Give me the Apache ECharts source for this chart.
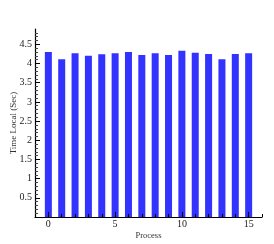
<!DOCTYPE html>
<html><head><meta charset="utf-8">
<script src="https://cdn.jsdelivr.net/npm/echarts@6/dist/echarts.min.js"></script>
<style>html,body{margin:0;padding:0;background:#fff}#c{width:274px;height:244px}</style>
</head><body><div id="c"></div>
<script>
var processes = [0,1,2,3,4,5,6,7,8,9,10,11,12,13,14,15];
var timeLocal = [4.30,4.11,4.27,4.20,4.24,4.27,4.30,4.22,4.27,4.22,4.33,4.28,4.25,4.11,4.25,4.27];
var xTickLabels = [0,5,10,15];
var yTickLabels = [0.5,1,1.5,2,2.5,3,3.5,4,4.5];
var xMinorTicks = [-1,0,1,2,3,4,5,6,7,8,9,10,11,12,13,14,15,16];
var yMinorTicks = [0.1,0.2,0.3,0.4,0.6,0.7,0.8,0.9,1.1,1.2,1.3,1.4,1.6,1.7,1.8,1.9,2.1,2.2,2.3,2.4,2.6,2.7,2.8,2.9,3.1,3.2,3.3,3.4,3.6,3.7,3.8,3.9,4.1,4.2,4.3,4.4,4.6,4.7,4.8];

var chart = echarts.init(document.getElementById('c'), null, {renderer:'canvas'});
chart.setOption({
  animation:false,
  grid:{left:35, top:29, right:12, bottom:27, containLabel:false, outerBoundsMode:'none'},
  xAxis:[{
    type:'value', min:-1, max:16, position:'bottom', z:5,
    name:'Process', nameLocation:'middle', nameGap:14, nameMoveOverlap:false,
    nameTextStyle:{fontFamily:'Liberation Serif', fontSize:8.5, color:'#333'},
    axisLine:{show:true, onZero:false, lineStyle:{color:'#000', width:1.2}},
    axisTick:{show:true, inside:true, length:5, customValues:xTickLabels, lineStyle:{color:'#000'}},
    axisLabel:{show:true, customValues:xTickLabels, margin:2, fontFamily:'Liberation Serif', fontSize:10, color:'#222'},
    splitLine:{show:false}
  },{
    type:'value', min:-1, max:16, position:'bottom', z:5,
    axisLine:{show:false, onZero:false},
    axisTick:{show:true, inside:true, length:3, customValues:xMinorTicks, lineStyle:{color:'#000'}},
    axisLabel:{show:false},
    splitLine:{show:false}
  }],
  yAxis:[{
    type:'value', min:0, max:4.9, interval:0.5, z:5,
    name:'Time Local (Sec)', nameLocation:'middle', nameGap:17, nameMoveOverlap:false,
    nameTextStyle:{fontFamily:'Liberation Serif', fontSize:9, color:'#333'},
    axisLine:{show:true, onZero:false, lineStyle:{color:'#000', width:1.2}},
    axisTick:{show:true, inside:true, length:5, customValues:yTickLabels, lineStyle:{color:'#000'}},
    axisLabel:{show:true, customValues:yTickLabels, margin:3, fontFamily:'Liberation Serif', fontSize:10, color:'#222'},
    splitLine:{show:false}
  },{
    type:'value', min:0, max:4.9, position:'left', offset:0, z:5,
    axisLine:{show:false, onZero:false},
    axisTick:{show:true, inside:true, length:3, customValues:yMinorTicks, lineStyle:{color:'#444'}},
    axisLabel:{show:false},
    splitLine:{show:false}
  }],
  series:[{
    type:'bar', xAxisIndex:0, yAxisIndex:0, barWidth:7,
    data: processes.map(function(p,i){return [p, timeLocal[i]];}),
    itemStyle:{color:'#3333ff'}
  }]
});
</script></body></html>
